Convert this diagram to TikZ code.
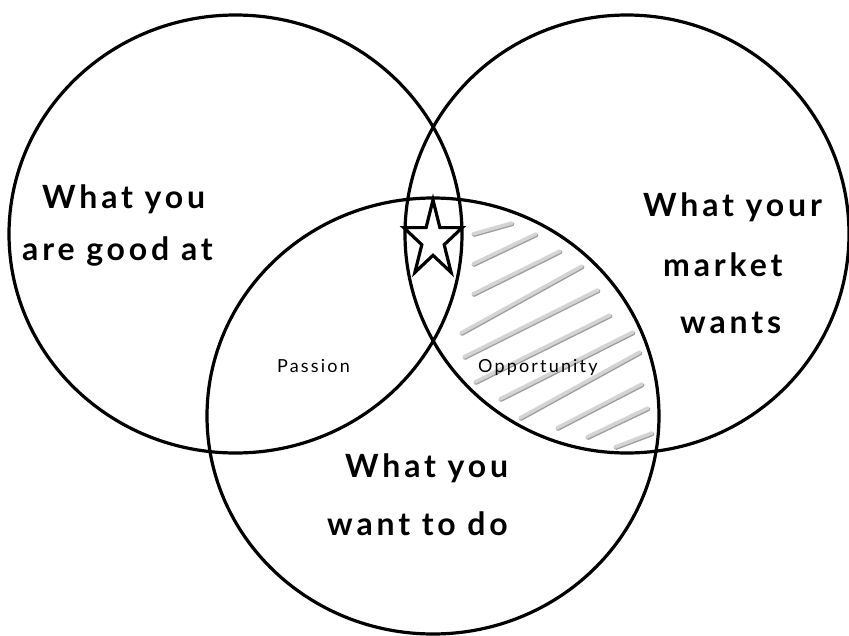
\documentclass[tikz,border=0pt]{standalone}
\usepackage{fontspec}
\setmainfont{Lato}[LetterSpace=12]
\begin{document}
\begin{tikzpicture}[x=1pt,y=-1pt,
  ring/.style={draw=black,line width=3.2pt},
  big/.style={anchor=base west,inner sep=0pt,font=\fontsize{32}{38}\selectfont\bfseries},
  small/.style={anchor=base west,inner sep=0pt,font=\fontsize{18}{22}\selectfont},
  hatchtop/.style={draw=black!17,line width=3.6pt,line cap=round},
  hatchshadow/.style={draw=black!38,line width=3.6pt,line cap=round}]
\useasboundingbox (0,0) rectangle (849,635);
% hatching in the Opportunity region
\foreach \ax/\ay/\bx/\by in {473/234/512/223, 473/264/536/234, 473/294/560/251,
  461/333/582/266, 464/357/598/290, 475/382/610/315, 500/399/633/332,
  520/418/640/352, 557/428/642/384, 587/437/648/408, 615/447/652/433}{
  \draw[hatchshadow] (\ax+0.8,\ay+1.2) -- (\bx+0.8,\by+1.2);
  \draw[hatchtop] (\ax,\ay) -- (\bx,\by);
}
% circles
\draw[ring] (235.5,234) ellipse [x radius=226.5, y radius=219];
\draw[ring] (627,234) ellipse [x radius=222, y radius=219];
\draw[ring] (433,416) ellipse [x radius=226, y radius=218];
% star
\draw[line width=3.2pt,fill=white,line join=miter] (433,200) -- (426.1,227.6) -- (403.7,227.6)
  -- (421.8,244.7) -- (414.9,272.4) -- (433,255.3) -- (451.1,272.4) -- (444.2,244.7)
  -- (462.3,227.6) -- (439.9,227.6) -- cycle;
% labels
\node[big] (l1) at (42,208) {What you};
\node[big] (l2) at (22,260) {are good at};
\node[big] (r1) at (643,216) {What your};
\node[big] (r2) at (663,276) {market};
\node[big] (r3) at (680,333) {wants};
\node[big] (b1) at (345,477) {What you};
\node[big] (b2) at (327,535) {want to do};
\node[small] (p) at (277,372) {Passion};
\node[small] (o) at (478,372) {Opportunity};
\end{tikzpicture}
\end{document}
